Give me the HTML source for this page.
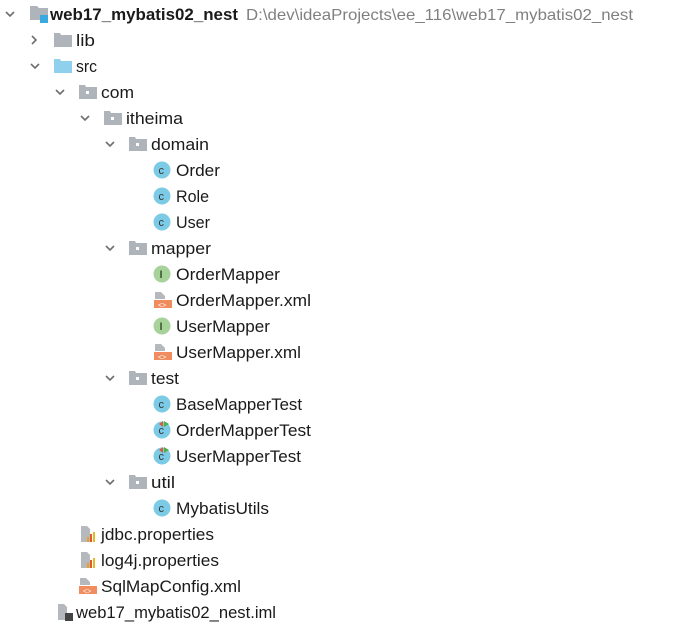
<!DOCTYPE html>
<html><head><meta charset="utf-8"><style>
html,body{margin:0;padding:0;background:#fff;}
svg{display:block}
text{font-family:"Liberation Sans","Noto Sans CJK SC",sans-serif;font-size:17px;fill:#1a1a1a}
</style></head><body>
<svg width="681" height="627" viewBox="0 0 681 627" xmlns="http://www.w3.org/2000/svg">
<defs>
<g id="chev"><polyline points="-4,-2 0,2 4,-2" fill="none" stroke="#6e6e6e" stroke-width="1.6"/></g>
<g id="pkg"><path d="M0,-7 h6 l1,2 h11 v12 h-18z" fill="#aeb4ba"/><rect x="7" y="-1" width="3" height="3" fill="#fff"/></g>
<g id="cls"><circle cx="0" cy="0" r="8.5" fill="#7ccbe6"/><text x="-3.5" y="4" style="font-size:11px;fill:#333">c</text></g>
<g id="itf"><circle cx="0" cy="0" r="8.5" fill="#a7d39a"/><text x="-2.5" y="4" style="font-size:11px;fill:#3a5a30;font-weight:bold">I</text></g>
<g id="xml"><path d="M-8,-8 h6 l4,4 v3 h-10z" fill="#b5b9bd"/><rect x="-9" y="0" width="18" height="8" fill="#f08c5e"/><text x="-5" y="7.5" style="font-size:7px;fill:#fff">&lt;&gt;</text></g>
<g id="prop"><path d="M-7,-8 h6 l3,3 v13 h-9z" fill="#b5b9bd"/><rect x="-1" y="3" width="2" height="5" fill="#f0a020"/><rect x="2" y="0" width="2" height="8" fill="#e05a30"/><rect x="5" y="-2" width="2" height="10" fill="#e8b820"/></g>
<g id="tst"><circle cx="0" cy="0" r="8.5" fill="#7ccbe6"/><text x="-3.5" y="4" style="font-size:11px;fill:#333">c</text><path d="M2,-9 l5,3 l-5,3z" fill="#4caf50"/><path d="M1,-9 l-4,3 l4,3z" fill="#e05a30"/></g>
</defs>
<use href="#chev" x="10" y="14"/>
<path d="M30,6 h7 l2,2 h9 v12 h-18z" fill="#aeb4ba"/><rect x="40" y="15" width="8" height="8" fill="#3aa9e0"/>
<text x="50" y="20" style="font-weight:bold" textLength="188" lengthAdjust="spacingAndGlyphs">web17_mybatis02_nest</text>
<text x="246" y="20" style="fill:#808080;font-size:16px" textLength="387" lengthAdjust="spacingAndGlyphs">D:\dev\ideaProjects\ee_116\web17_mybatis02_nest</text>
<polyline points="32,36 36,40 32,44" fill="none" stroke="#6e6e6e" stroke-width="1.6"/>
<path d="M54,33 h6 l1,2 h11 v12 h-18z" fill="#aeb4ba"/>
<text x="76" y="46" textLength="19" lengthAdjust="spacingAndGlyphs">lib</text>
<use href="#chev" x="35" y="66"/>
<path d="M54,59 h6 l1,2 h11 v12 h-18z" fill="#8fd0ec"/>
<text x="76" y="72" textLength="21" lengthAdjust="spacingAndGlyphs">src</text>
<use href="#chev" x="60" y="92"/><use href="#pkg" x="79" y="92"/>
<text x="101" y="98" textLength="33" lengthAdjust="spacingAndGlyphs">com</text>
<use href="#chev" x="85" y="118"/><use href="#pkg" x="104" y="118"/>
<text x="126" y="124" textLength="57" lengthAdjust="spacingAndGlyphs">itheima</text>
<use href="#chev" x="110" y="144"/><use href="#pkg" x="129" y="144"/>
<text x="151" y="150" textLength="58" lengthAdjust="spacingAndGlyphs">domain</text>
<use href="#cls" x="162" y="170"/><text x="176" y="176" textLength="44" lengthAdjust="spacingAndGlyphs">Order</text>
<use href="#cls" x="162" y="196"/><text x="176" y="202" textLength="33" lengthAdjust="spacingAndGlyphs">Role</text>
<use href="#cls" x="162" y="222"/><text x="176" y="228" textLength="34" lengthAdjust="spacingAndGlyphs">User</text>
<use href="#chev" x="110" y="248"/><use href="#pkg" x="129" y="248"/>
<text x="151" y="254" textLength="60" lengthAdjust="spacingAndGlyphs">mapper</text>
<use href="#itf" x="162" y="274"/><text x="176" y="280" textLength="104" lengthAdjust="spacingAndGlyphs">OrderMapper</text>
<use href="#xml" x="163" y="300"/><text x="176" y="306" textLength="135" lengthAdjust="spacingAndGlyphs">OrderMapper.xml</text>
<use href="#itf" x="162" y="326"/><text x="176" y="332" textLength="94" lengthAdjust="spacingAndGlyphs">UserMapper</text>
<use href="#xml" x="163" y="352"/><text x="176" y="358" textLength="125" lengthAdjust="spacingAndGlyphs">UserMapper.xml</text>
<use href="#chev" x="110" y="378"/><use href="#pkg" x="129" y="378"/>
<text x="151" y="384" textLength="28" lengthAdjust="spacingAndGlyphs">test</text>
<use href="#cls" x="162" y="404"/><text x="176" y="410" textLength="126" lengthAdjust="spacingAndGlyphs">BaseMapperTest</text>
<use href="#tst" x="162" y="430"/><text x="176" y="436" textLength="135" lengthAdjust="spacingAndGlyphs">OrderMapperTest</text>
<use href="#tst" x="162" y="456"/><text x="176" y="462" textLength="125" lengthAdjust="spacingAndGlyphs">UserMapperTest</text>
<use href="#chev" x="110" y="482"/><use href="#pkg" x="129" y="482"/>
<text x="151" y="488" textLength="24" lengthAdjust="spacingAndGlyphs">util</text>
<use href="#cls" x="162" y="508"/><text x="176" y="514" textLength="93" lengthAdjust="spacingAndGlyphs">MybatisUtils</text>
<use href="#prop" x="88" y="534"/><text x="101" y="540" textLength="113" lengthAdjust="spacingAndGlyphs">jdbc.properties</text>
<use href="#prop" x="88" y="560"/><text x="101" y="566" textLength="118" lengthAdjust="spacingAndGlyphs">log4j.properties</text>
<use href="#xml" x="88" y="586"/><text x="101" y="592" textLength="140" lengthAdjust="spacingAndGlyphs">SqlMapConfig.xml</text>
<path d="M58,604 h6 l3,3 v13 h-9z" fill="#b5b9bd"/><rect x="65" y="613" width="8" height="8" fill="#444"/>
<text x="76" y="618" textLength="200" lengthAdjust="spacingAndGlyphs">web17_mybatis02_nest.iml</text>
</svg>
</body></html>
